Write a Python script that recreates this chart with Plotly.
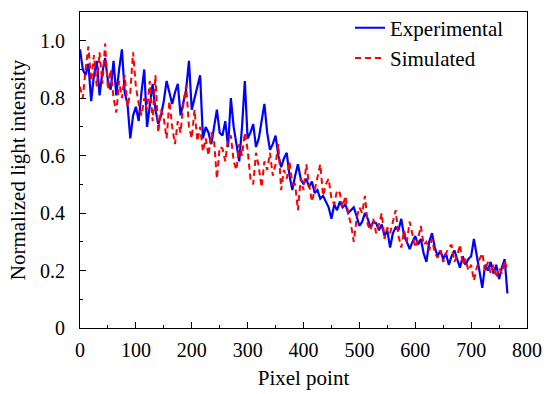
import plotly.graph_objects as go

x_pix = list(range(0, 770, 5))

experimental = [
    0.97, 0.90, 0.88, 0.92, 0.79, 0.88, 0.93, 0.81, 0.89, 0.94,
    0.86, 0.83, 0.93, 0.81, 0.90, 0.97, 0.82, 0.78, 0.66, 0.74,
    0.77, 0.72, 0.82, 0.90, 0.70, 0.78, 0.85, 0.76, 0.71, 0.74,
    0.79, 0.86, 0.82, 0.78, 0.82, 0.85, 0.74, 0.78, 0.83, 0.93,
    0.76, 0.80, 0.84, 0.88, 0.66, 0.70, 0.68, 0.64, 0.70, 0.76,
    0.68, 0.67, 0.72, 0.63, 0.80, 0.70, 0.64, 0.58, 0.70, 0.86,
    0.66, 0.68, 0.71, 0.63, 0.66, 0.72, 0.78, 0.68, 0.62, 0.64,
    0.67, 0.60, 0.56, 0.59, 0.61, 0.53, 0.48, 0.53, 0.57, 0.52,
    0.50, 0.52, 0.49, 0.51, 0.47, 0.48, 0.45, 0.46, 0.44, 0.42,
    0.38, 0.43, 0.41, 0.44, 0.42, 0.43, 0.40, 0.41, 0.42, 0.39,
    0.355, 0.37, 0.40, 0.38, 0.35, 0.37, 0.365, 0.34, 0.36, 0.32,
    0.34, 0.28, 0.33, 0.35, 0.34, 0.38, 0.32, 0.30, 0.275, 0.30,
    0.32, 0.29, 0.31, 0.26, 0.23, 0.30, 0.33, 0.28, 0.25, 0.27,
    0.24, 0.26, 0.22, 0.25, 0.27, 0.24, 0.21, 0.25, 0.22, 0.24,
    0.25, 0.31, 0.25, 0.20, 0.14, 0.22, 0.20, 0.23, 0.19, 0.22,
    0.17, 0.21, 0.24, 0.12,
]

simulated = [
    0.84, 0.80, 0.90, 0.98, 0.86, 0.95, 0.84, 0.96, 0.85, 0.99,
    0.83, 0.90, 0.80, 0.75, 0.86, 0.80, 0.88, 0.77, 0.82, 0.96,
    0.84, 0.78, 0.74, 0.80, 0.76, 0.86, 0.72, 0.88, 0.68, 0.76,
    0.73, 0.66, 0.79, 0.70, 0.64, 0.72, 0.68, 0.78, 0.845, 0.70,
    0.66, 0.76, 0.65, 0.70, 0.615, 0.66, 0.60, 0.68, 0.65, 0.52,
    0.63, 0.625, 0.58, 0.66, 0.67, 0.58, 0.55, 0.64, 0.60, 0.68,
    0.62, 0.52, 0.50, 0.61, 0.56, 0.49, 0.58, 0.55, 0.61, 0.53,
    0.57, 0.64, 0.48, 0.55, 0.52, 0.58, 0.50, 0.50, 0.41, 0.52,
    0.48, 0.57, 0.50, 0.44, 0.48, 0.53, 0.57, 0.46, 0.50, 0.52,
    0.45, 0.43, 0.48, 0.47, 0.42, 0.46, 0.40, 0.36, 0.30, 0.38,
    0.42, 0.40, 0.46, 0.36, 0.34, 0.38, 0.33, 0.36, 0.40, 0.31,
    0.35, 0.33, 0.37, 0.41, 0.32, 0.28, 0.34, 0.30, 0.37, 0.33,
    0.28, 0.31, 0.355, 0.29, 0.30, 0.27, 0.31, 0.26, 0.245, 0.27,
    0.23, 0.26, 0.28, 0.29, 0.23, 0.25, 0.29, 0.22, 0.24, 0.20,
    0.22, 0.165, 0.21, 0.24, 0.26, 0.20, 0.23, 0.19, 0.22, 0.175,
    0.21, 0.19, 0.235, 0.20,
]

y_tickvals = [0, 0.2, 0.4, 0.6, 0.8, 1.0]
y_ticktext = ["0", "0.2", "0.4", "0.6", "0.8", "1.0"]

FONT = "Liberation Serif, Times New Roman, serif"

fig = go.Figure()
fig.add_trace(go.Scatter(x=x_pix, y=experimental, mode="lines", name="Experimental",
                         line=dict(color="#0000ff", width=2.2)))
fig.add_trace(go.Scatter(x=x_pix, y=simulated, mode="lines", name="Simulated",
                         line=dict(color="#ff0000", width=2, dash="6px,4px")))

fig.update_layout(
    width=550, height=394,
    margin=dict(l=80, r=18, t=8, b=66),
    paper_bgcolor="white", plot_bgcolor="white",
    font=dict(family=FONT, size=20, color="black"),
    showlegend=True,
    legend=dict(x=0.604, y=1.014, xanchor="left", yanchor="top",
                bgcolor="rgba(0,0,0,0)", font=dict(size=21, family=FONT),
                tracegroupgap=0),
)
fig.update_xaxes(
    range=[0, 800], dtick=100, tick0=0,
    ticks="inside", ticklen=6, tickwidth=1, tickcolor="black",
    minor=dict(dtick=50, ticks="inside", ticklen=3, tickcolor="black"),
    showline=True, linecolor="black", linewidth=1, mirror=True,
    showgrid=False, zeroline=False,
    title=dict(text="Pixel point", font=dict(size=21, family=FONT), standoff=10),
    tickfont=dict(size=20, family=FONT),
    ticklabelstandoff=4,
)
fig.update_yaxes(
    range=[0, 1.1], tickvals=y_tickvals, ticktext=y_ticktext,
    ticks="inside", ticklen=6, tickwidth=1, tickcolor="black",
    minor=dict(tickvals=[0.1, 0.3, 0.5, 0.7, 0.9], ticks="inside", ticklen=3, tickcolor="black"),
    showline=True, linecolor="black", linewidth=1, mirror=True,
    showgrid=False, zeroline=False,
    title=dict(text="Normalized light intensity", font=dict(size=21, family=FONT), standoff=8),
    tickfont=dict(size=20, family=FONT),
    ticklabelstandoff=10,
)

fig.write_html("out.html")
